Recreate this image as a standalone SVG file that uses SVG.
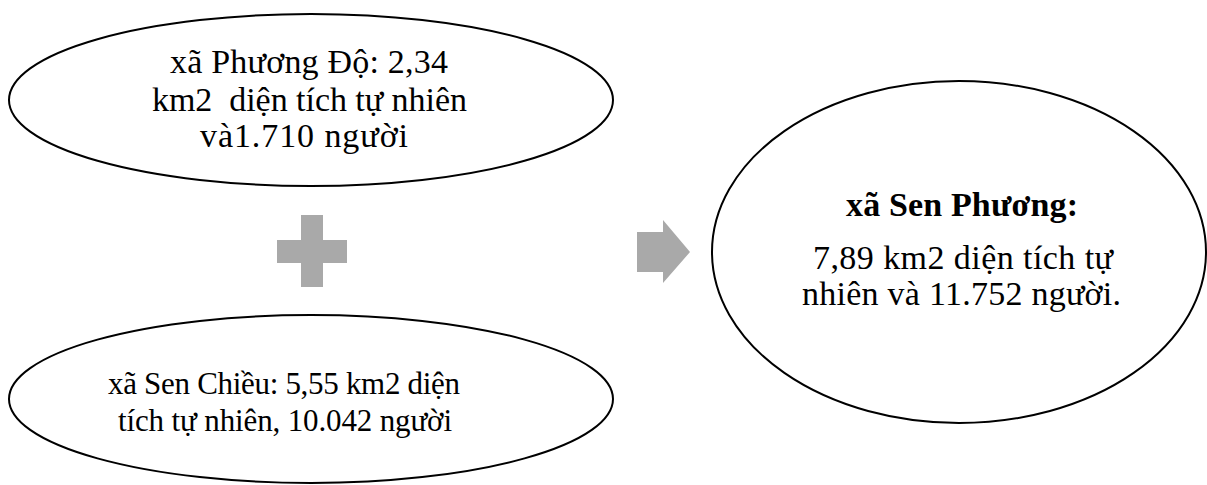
<svg xmlns="http://www.w3.org/2000/svg" width="1207" height="485" viewBox="0 0 1207 485">
<style>
.ell{fill:#fff;stroke:#000;stroke-width:2}
.t{font-family:'Liberation Serif',serif;font-size:34px;fill:#000}
.s{font-size:31px}
.b{font-weight:bold}
.sym{fill:#a9a9a9}
</style>
<rect width="1207" height="485" fill="#fff"/>
<g id="node-phuong-do">
<ellipse class="ell" cx="311" cy="100" rx="302" ry="86"/>
<text class="t" x="170" y="73" textLength="278" lengthAdjust="spacing">xã Phương Độ: 2,34</text>
<text class="t" x="152" y="111" textLength="315" lengthAdjust="spacing" xml:space="preserve">km2  diện tích tự nhiên</text>
<text class="t" x="200" y="147" textLength="208" lengthAdjust="spacing">và1.710 người</text>
</g>
<g id="node-sen-chieu">
<ellipse class="ell" cx="311" cy="399" rx="302" ry="84"/>
<text class="t s" x="108" y="394" textLength="352" lengthAdjust="spacing">xã Sen Chiều: 5,55 km2 diện</text>
<text class="t s" x="118" y="431" textLength="334" lengthAdjust="spacing">tích tự nhiên, 10.042 người</text>
</g>
<g id="node-sen-phuong">
<ellipse class="ell" cx="959" cy="252" rx="247" ry="171"/>
<text class="t b" x="846" y="216" textLength="232" lengthAdjust="spacing">xã Sen Phương:</text>
<text class="t" x="813" y="269" textLength="300" lengthAdjust="spacing">7,89 km2 diện tích tự</text>
<text class="t" x="802" y="305" textLength="319" lengthAdjust="spacing">nhiên và 11.752 người.</text>
</g>
<g id="connectors">
<path class="sym" d="M301,215 H323 V240 H347 V263 H323 V287 H301 V263 H277 V240 H301 Z"/>
<path class="sym" d="M637,232 H663 V220 L690,252 L663,283 V272 H637 Z"/>
</g>
</svg>
